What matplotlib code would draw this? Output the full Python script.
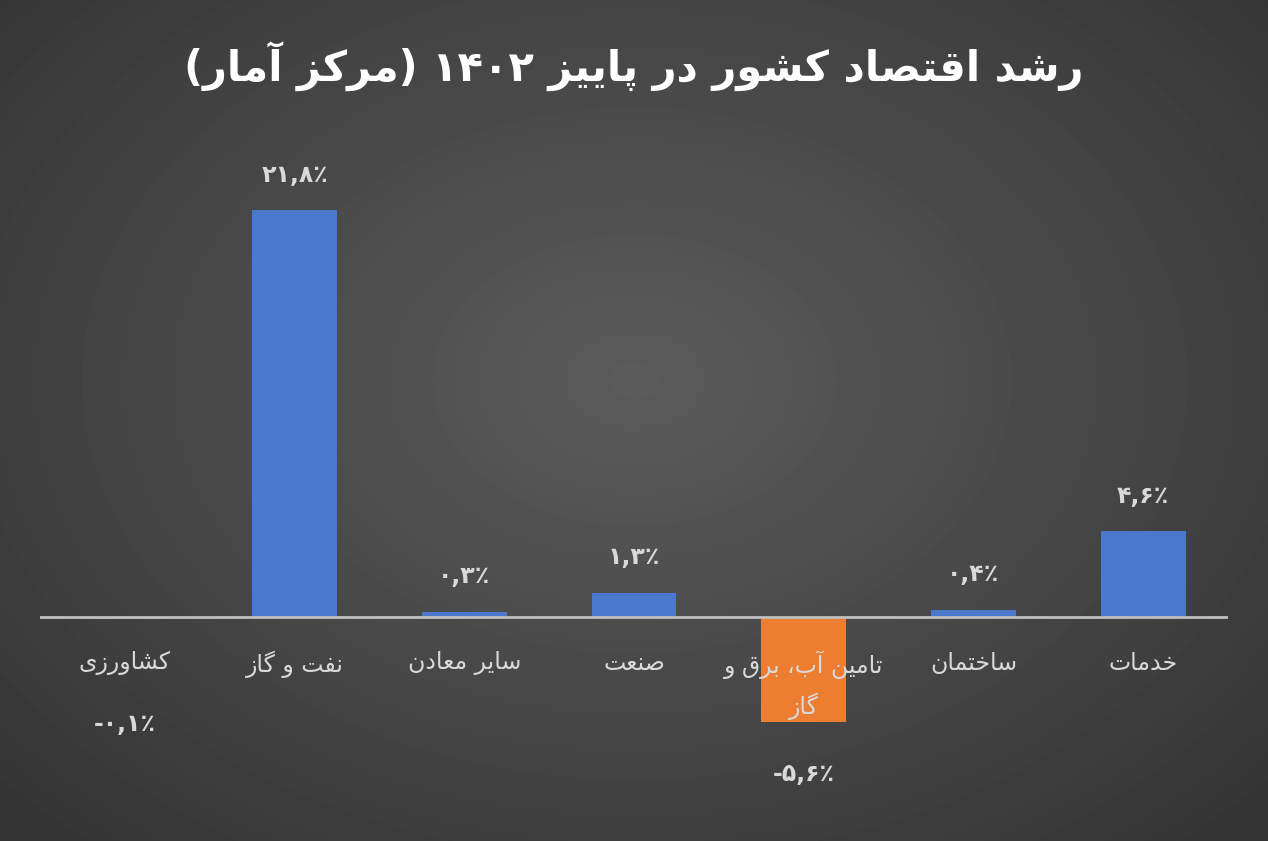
import matplotlib.pyplot as plt
import numpy as np

plt.rcParams['font.family'] = ['DejaVu Sans']

title = "رشد اقتصاد کشور در پاییز ۱۴۰۲ (مرکز آمار)"
categories = ["کشاورزی", "نفت و گاز", "سایر معادن", "صنعت", "تامین آب، برق و\nگاز", "ساختمان", "خدمات"]
values = [-0.1, 21.8, 0.3, 1.3, -5.6, 0.4, 4.6]
value_labels = ["-۰,۱٪", "۲۱,۸٪", "۰,۳٪", "۱,۳٪", "-۵,۶٪", "۰,۴٪", "۴,۶٪"]

# presentation forms: isolated, final, initial, medial
forms = {
    'ا': ('\uFE8D', '\uFE8E', None, None), 'آ': ('\uFE81', '\uFE82', None, None),
    'ب': ('\uFE8F', '\uFE90', '\uFE91', '\uFE92'), 'پ': ('\uFB56', '\uFB57', '\uFB58', '\uFB59'),
    'ت': ('\uFE95', '\uFE96', '\uFE97', '\uFE98'), 'ح': ('\uFEA1', '\uFEA2', '\uFEA3', '\uFEA4'),
    'خ': ('\uFEA5', '\uFEA6', '\uFEA7', '\uFEA8'), 'د': ('\uFEA9', '\uFEAA', None, None),
    'ر': ('\uFEAD', '\uFEAE', None, None), 'ز': ('\uFEAF', '\uFEB0', None, None),
    'س': ('\uFEB1', '\uFEB2', '\uFEB3', '\uFEB4'), 'ش': ('\uFEB5', '\uFEB6', '\uFEB7', '\uFEB8'),
    'ص': ('\uFEB9', '\uFEBA', '\uFEBB', '\uFEBC'), 'ع': ('\uFEC9', '\uFECA', '\uFECB', '\uFECC'),
    'ف': ('\uFED1', '\uFED2', '\uFED3', '\uFED4'), 'ق': ('\uFED5', '\uFED6', '\uFED7', '\uFED8'),
    'ک': ('\uFB8E', '\uFB8F', '\uFB90', '\uFB91'), 'گ': ('\uFB92', '\uFB93', '\uFB94', '\uFB95'),
    'ل': ('\uFEDD', '\uFEDE', '\uFEDF', '\uFEE0'), 'م': ('\uFEE1', '\uFEE2', '\uFEE3', '\uFEE4'),
    'ن': ('\uFEE5', '\uFEE6', '\uFEE7', '\uFEE8'), 'و': ('\uFEED', '\uFEEE', None, None),
    'ی': ('\uFBFC', '\uFBFD', '\uFBFE', '\uFBFF'),
}
mirror = {'(': ')', ')': '('}


def shape_line(s):
    out = []
    for i, c in enumerate(s):
        if c not in forms:
            out.append(c)
            continue
        prev = s[i - 1] if i > 0 else ''
        nxt = s[i + 1] if i + 1 < len(s) else ''
        join_prev = prev in forms and forms[prev][2] is not None
        join_next = nxt in forms and forms[c][2] is not None
        iso, fin, ini, med = forms[c]
        if join_prev and join_next:
            out.append(med)
        elif join_prev:
            out.append(fin)
        elif join_next:
            out.append(ini)
        else:
            out.append(iso)
    # visual order: reverse, keeping digit runs left-to-right
    runs, cur = [], ''
    for c in out:
        if c in '۰۱۲۳۴۵۶۷۸۹0123456789,٪-':
            cur += c
        else:
            if cur:
                runs.append(cur)
                cur = ''
            runs.append(mirror.get(c, c))
    if cur:
        runs.append(cur)
    return ''.join(reversed(runs))


def rtl(s):
    return '\n'.join(shape_line(l) for l in s.split('\n'))


fig = plt.figure(figsize=(12.68, 8.41), dpi=100)
bg = fig.add_axes([0, 0, 1, 1])
yy, xx = np.mgrid[0:841, 0:1268]
r = np.sqrt(((xx - 634) / 900) ** 2 + ((yy - 380) / 650) ** 2)
grad = np.clip(0.36 - 0.16 * r, 0.2, 0.36)
bg.imshow(grad, cmap='gray', vmin=0, vmax=1, aspect='auto')
bg.axis('off')

ax = fig.add_axes([40 / 1268, 11 / 841, 1188 / 1268, 700 / 841])
ax.patch.set_alpha(0)
x = np.arange(len(values))
colors = ['#ed7d31' if v < -1 else '#4a78cc' for v in values]
ax.bar(x, values, width=0.5, color=colors)
ax.axhline(0, color='#bfbfbf', lw=2)
ax.set_xlim(-0.5, len(values) - 0.5)
ax.set_ylim(-11.4, 26.1)
ax.axis('off')

for i, v in enumerate(values):
    if v >= 0:
        ax.text(i, v + 1.9, value_labels[i], ha='center', va='center', color='#d9d9d9', fontsize=17, fontweight='bold')
    else:
        ax.text(i, v - 2.8 if v < -1 else -5.7, value_labels[i], ha='center', va='center', color='#d9d9d9', fontsize=17, fontweight='bold')
    ax.text(i, -1.8, rtl(categories[i]), ha='center', va='top', color='#d9d9d9', fontsize=17, linespacing=1.6)

fig.text(0.5, 0.92, rtl(title), ha='center', va='center', color='white', fontsize=30, fontweight='bold')

fig.savefig('out.png', dpi=100)
